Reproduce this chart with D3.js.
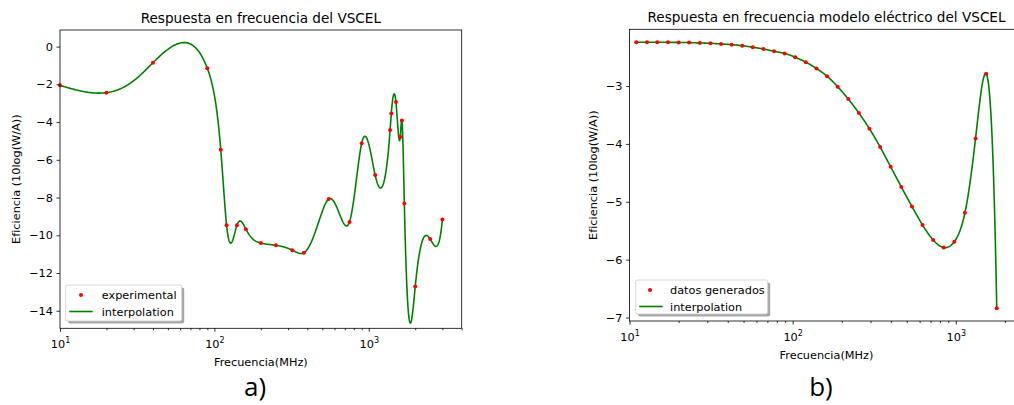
<!DOCTYPE html>
<html lang="es">
<head>
<meta charset="UTF-8">
<title>Respuesta en frecuencia del VSCEL</title>
<style>
  body { margin: 0; background: #fff; }
  svg text { font-family: "DejaVu Sans", sans-serif; fill: #000; }
  .tick line { stroke: #000; stroke-width: 0.8; }
  .frame { fill: none; stroke: #000; stroke-width: 0.8; }
  .curve { fill: none; stroke: #008000; stroke-width: 1.6; }
  .dot { fill: #ff0000; }
  .caption { font-family: "Open Sans", sans-serif !important; font-size: 26px; }
</style>
</head>
<body>
<svg id="fig" width="1014" height="405"></svg>
<script src="https://cdn.jsdelivr.net/npm/d3@7"></script>
<script>
// a) measured points (MHz, 10log(W/A))
var freqA = [10, 20, 40, 90, 110, 120, 140, 160, 200, 250, 320, 380, 550, 750, 900,
  1100, 1375, 1400, 1500, 1600, 1640, 1700, 2000, 2500, 3000];
var effA = [-2.05, -2.44, -0.85, -1.15, -5.47, -9.47, -9.47, -9.68, -10.41, -10.53, -10.79,
  -10.93, -8.08, -9.30, -5.12, -6.81, -4.42, -3.54, -2.94, -4.79, -3.91, -8.32, -12.72, -10.20, -9.16];

// b) points generated by the electric model
var freqB = [11.0, 12.8, 14.8, 17.2, 20.0, 23.2, 27.0, 31.3, 36.4, 42.3, 49.1, 57.0, 66.2,
  76.9, 89.3, 103.7, 120.5, 140.0, 162.6, 188.8, 219.3, 254.7, 295.8, 343.6, 399.0, 463.4,
  538.3, 625.2, 726.1, 843.3, 979.5, 1137.6, 1321.3, 1534.6, 1782.4];
var effB = [-2.244, -2.244, -2.244, -2.245, -2.247, -2.250, -2.256, -2.262, -2.273, -2.285,
  -2.303, -2.330, -2.360, -2.400, -2.437, -2.503, -2.588, -2.697, -2.832, -3.012, -3.225,
  -3.467, -3.739, -4.052, -4.397, -4.743, -5.080, -5.400, -5.660, -5.790, -5.690, -5.190,
  -3.905, -2.790, -6.840];

var yTicksA = [0, -2, -4, -6, -8, -10, -12, -14];
var yTicksB = [-3, -4, -5, -6, -7];
var xMajor = [10, 100, 1000];
var legendA = ['experimental', 'interpolation'];
var legendB = ['datos generados', 'interpolation'];
var titles = ['Respuesta en frecuencia del VSCEL', 'Respuesta en frecuencia modelo eléctrico del VSCEL'];

var fs = 11.3;

// cubic spline (not-a-knot ends) on linear frequency, like scipy interp1d(kind='cubic')
function spline(xs, ys) {
  var n = xs.length, h = [], A = [], b = [], i, j, k;
  for (i = 0; i < n - 1; i++) h.push(xs[i + 1] - xs[i]);
  for (i = 0; i < n; i++) { A.push(new Array(n).fill(0)); b.push(0); }
  A[0][0] = h[1]; A[0][1] = -(h[0] + h[1]); A[0][2] = h[0];
  for (i = 1; i < n - 1; i++) {
    A[i][i - 1] = h[i - 1]; A[i][i] = 2 * (h[i - 1] + h[i]); A[i][i + 1] = h[i];
    b[i] = 6 * ((ys[i + 1] - ys[i]) / h[i] - (ys[i] - ys[i - 1]) / h[i - 1]);
  }
  A[n - 1][n - 3] = h[n - 2]; A[n - 1][n - 2] = -(h[n - 3] + h[n - 2]); A[n - 1][n - 1] = h[n - 3];
  for (k = 0; k < n; k++) {
    var p = k;
    for (i = k + 1; i < n; i++) if (Math.abs(A[i][k]) > Math.abs(A[p][k])) p = i;
    var tmp = A[k]; A[k] = A[p]; A[p] = tmp;
    var tb = b[k]; b[k] = b[p]; b[p] = tb;
    for (i = k + 1; i < n; i++) {
      var f = A[i][k] / A[k][k];
      for (j = k; j < n; j++) A[i][j] -= f * A[k][j];
      b[i] -= f * b[k];
    }
  }
  var M = new Array(n).fill(0);
  for (i = n - 1; i >= 0; i--) {
    var s = b[i];
    for (j = i + 1; j < n; j++) s -= A[i][j] * M[j];
    M[i] = s / A[i][i];
  }
  return function (x, i) {
    var hi = h[i], a = xs[i + 1] - x, c = x - xs[i];
    return M[i] * a * a * a / (6 * hi) + M[i + 1] * c * c * c / (6 * hi) +
      (ys[i] / hi - M[i] * hi / 6) * a + (ys[i + 1] / hi - M[i + 1] * hi / 6) * c;
  };
}

function curvePoints(xs, ys) {
  var S = spline(xs, ys), pts = [];
  for (var i = 0; i < xs.length - 1; i++) {
    var l0 = Math.log10(xs[i]), l1 = Math.log10(xs[i + 1]);
    for (var s = 0; s < 40; s++) {
      var x = Math.pow(10, l0 + (l1 - l0) * s / 40);
      pts.push([x, S(x, i)]);
    }
  }
  pts.push([xs[xs.length - 1], ys[ys.length - 1]]);
  return pts;
}

var svg = d3.select('#fig');

function panel(opt) {
  var x = d3.scaleLog().domain(opt.xDomain).range(opt.xRange);
  var y = d3.scaleLinear().domain(opt.yDomain).range(opt.yRange);
  var g = svg.append('g');
  var left = opt.xRange[0], right = opt.xRange[1], top = opt.yRange[1], bottom = opt.yRange[0];
  var cx = (left + right) / 2;

  var line = d3.line().x(function (d) { return x(d[0]); }).y(function (d) { return y(d[1]); });
  g.append('path').attr('class', 'curve').attr('d', line(curvePoints(opt.xs, opt.ys)));
  g.selectAll('circle.dot').data(opt.xs).enter().append('circle')
    .attr('class', 'dot')
    .attr('cx', function (d) { return x(d); })
    .attr('cy', function (d, i) { return y(opt.ys[i]); })
    .attr('r', 2);

  g.append('rect').attr('class', 'frame')
    .attr('x', left).attr('y', top).attr('width', right - left).attr('height', bottom - top);

  // minor x ticks
  var minor = x.ticks().filter(function (d) { return xMajor.indexOf(d) < 0; });
  g.append('g').attr('transform', 'translate(0,' + bottom + ')')
    .call(d3.axisBottom(x).tickValues(minor).tickSize(2).tickFormat(''))
    .call(function (a) { a.select('.domain').remove(); });

  var xa = g.append('g').attr('transform', 'translate(0,' + bottom + ')')
    .call(d3.axisBottom(x).tickValues(xMajor).tickSize(3.5).tickPadding(8).tickFormat(''))
    .call(function (a) { a.select('.domain').remove(); });
  xa.selectAll('.tick text').each(function (d) {
    var t = d3.select(this).attr('font-size', fs).attr('fill', '#000');
    t.append('tspan').text('10');
    t.append('tspan').attr('dy', -4.5).attr('font-size', 8).text(Math.round(Math.log10(d)));
  });

  g.append('g').attr('transform', 'translate(' + left + ',0)')
    .call(d3.axisLeft(y).tickValues(opt.yTicks).tickSize(3.5).tickPadding(3.5).tickFormat(d3.format('d')))
    .call(function (a) {
      a.select('.domain').remove();
      a.selectAll('text').attr('font-size', fs).attr('font-family', 'DejaVu Sans').attr('fill', '#000');
    });

  g.append('text').attr('x', cx).attr('y', top - 7.5).attr('text-anchor', 'middle')
    .attr('font-size', 13.6).text(opt.title);
  g.append('text').attr('x', cx).attr('y', opt.xLabelY).attr('text-anchor', 'middle')
    .attr('font-size', fs).text('Frecuencia(MHz)');
  g.append('text').attr('text-anchor', 'middle').attr('font-size', fs).attr('dy', '0.35em')
    .attr('transform', 'translate(' + opt.yLabelX + ',' + (top + bottom) / 2 + ') rotate(-90)')
    .text('Eficiencia (10log(W/A))');

  // legend with shadow
  var L = opt.legend, lg = g.append('g').attr('transform', 'translate(' + L.x + ',' + L.y + ')');
  lg.append('rect').attr('x', 2.5).attr('y', 2.5).attr('width', L.w).attr('height', L.h)
    .attr('rx', 2).attr('fill', '#000').attr('opacity', 0.35);
  lg.append('rect').attr('width', L.w).attr('height', L.h).attr('rx', 2)
    .attr('fill', '#fff').attr('stroke', '#ccc').attr('stroke-width', 0.8);
  lg.append('circle').attr('class', 'dot').attr('cx', L.dx).attr('cy', 10).attr('r', 2);
  lg.append('line').attr('x1', 3.5).attr('x2', 27).attr('y1', 26.5).attr('y2', 26.5)
    .attr('stroke', '#008000').attr('stroke-width', 1.6);
  lg.selectAll('text.lab').data(L.labels).enter().append('text')
    .attr('class', 'lab').attr('x', L.tx).attr('y', function (d, i) { return 14 + i * 16.5; })
    .attr('font-size', fs).text(function (d) { return d; });

  svg.append('text').attr('class', 'caption').attr('x', opt.capX).attr('y', 396)
    .attr('text-anchor', 'middle').text(opt.caption);
}

panel({
  xs: freqA, ys: effA, xDomain: [10, 4000], xRange: [60, 461.7],
  yDomain: [-14.93, 0.88], yRange: [328.3, 30], yTicks: yTicksA,
  title: titles[0], xLabelY: 365.5, yLabelX: 16.5,
  legend: { x: 65.7, y: 285, w: 116, h: 36, dx: 15.3, tx: 36, labels: legendA },
  caption: 'a)', capX: 255
});

panel({
  xs: freqB, ys: effB, xDomain: [10, 2600], xRange: [629.5, 1023.5],
  yDomain: [-7.06, -2.02], yRange: [321, 29.3], yTicks: yTicksB,
  title: titles[1], xLabelY: 358.5, yLabelX: 593.5,
  legend: { x: 635.7, y: 280, w: 132, h: 34, dx: 14.3, tx: 34.3, labels: legendB },
  caption: 'b)', capX: 821
});
</script>
</body>
</html>
